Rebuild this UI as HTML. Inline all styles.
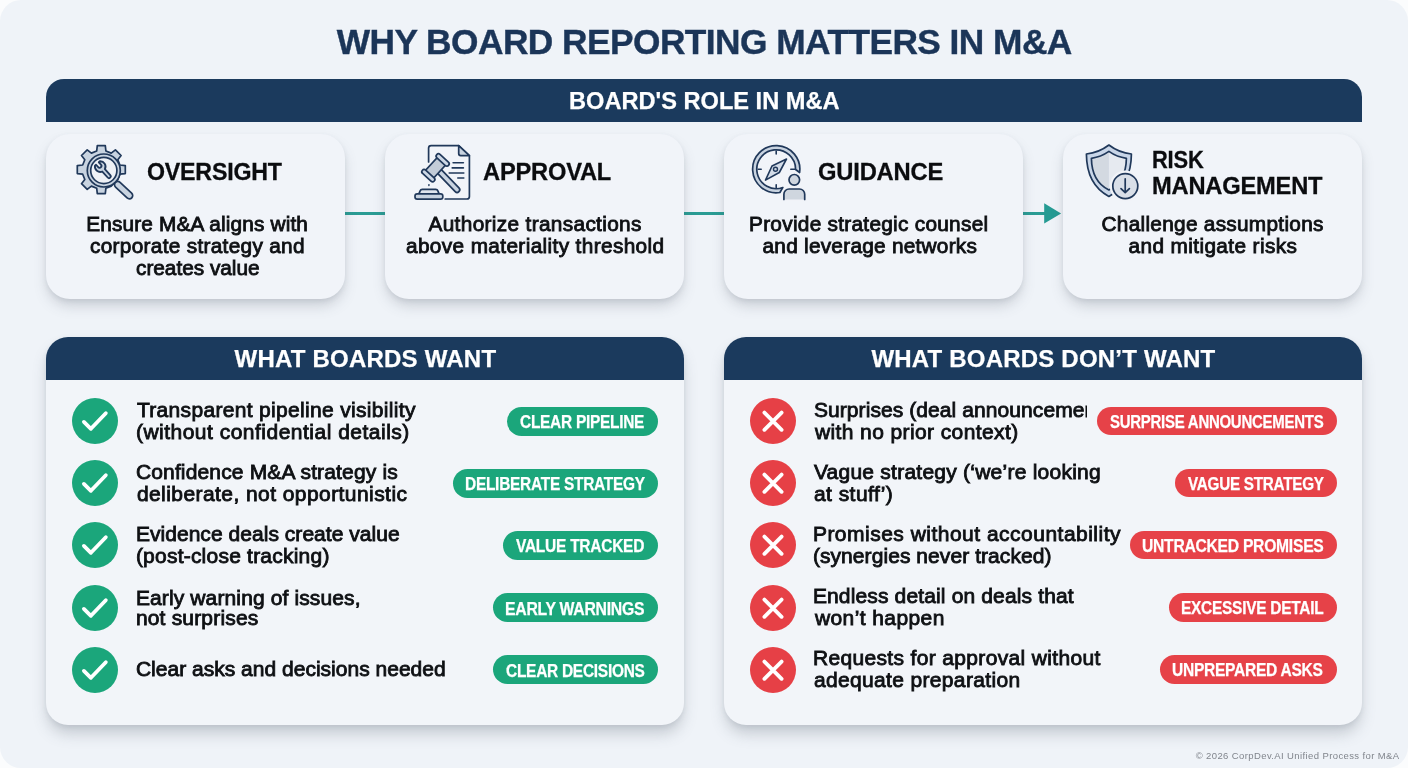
<!DOCTYPE html>
<html lang="en">
<head>
<meta charset="utf-8">
<title>Why Board Reporting Matters in M&amp;A</title>
<style>
*{box-sizing:border-box;margin:0;padding:0}
html,body{width:1408px;height:768px;overflow:hidden;background:#fbfcfd}
body{font-family:"Liberation Sans",sans-serif;color:#0d0f12;position:relative}
.page{position:absolute;left:0;top:0;width:1408px;height:768px;background:#eff3f8;border-radius:21px}
.abs{position:absolute}
.bar{position:absolute;left:46px;top:79px;width:1316px;height:43px;background:#1b3a5d;border-radius:18px 18px 0 0}
.card{position:absolute;top:134px;width:299px;height:165px;background:#f1f4f9;border-radius:24px;box-shadow:0 8px 14px -2px rgba(80,88,105,.25),0 2px 5px rgba(80,88,105,.09)}
.conn{position:absolute;top:211.7px;height:3.6px;background:#2a9c94}
.panel{position:absolute;top:337px;width:638px;height:388px;background:#f2f5f9;border-radius:22px;box-shadow:0 10px 15px -2px rgba(80,88,105,.28),0 2px 5px rgba(80,88,105,.09);overflow:hidden}
.panel .hd{position:absolute;left:0;top:0;width:638px;height:43px;background:#1b3a5d}
.ic{position:absolute;width:46px;height:46px;border-radius:50%}
.ic.g{background:#1ba67b}
.ic.r{background:#e64046}
.ic svg{position:absolute;left:0;top:0}
.tag{position:absolute;height:29px;border-radius:14.5px}
.tag.g{background:#1ba67b}
.tag.r{background:#e64248}
.t{position:absolute;white-space:nowrap;line-height:26px}
.c-title{font-weight:700;color:#1b3558;-webkit-text-stroke:0.4px #1b3558}
.c-white{font-weight:700;color:#fff;-webkit-text-stroke:0.25px #fff}
.c-head{font-weight:700;color:#0b0c0f;-webkit-text-stroke:0.3px #0b0c0f}
.c-body{color:#0e1013;-webkit-text-stroke:0.85px #0e1013}
.c-foot{color:#80858c}
</style>
</head>
<body>
<div class="page">
<div class="bar"></div>

<div class="conn" style="left:345px;width:40px"></div>
<div class="conn" style="left:684px;width:40px"></div>
<div class="conn" style="left:1023px;width:22px"></div>
<svg class="abs" style="left:1040px;top:200px" width="24" height="27" viewBox="0 0 24 27"><path d="M4.2 3.2 L21.1 13.4 L4.2 23.4 Z" fill="#259b93"/></svg>

<div class="card" style="left:46px"></div>
<div class="card" style="left:385px"></div>
<div class="card" style="left:724px"></div>
<div class="card" style="left:1063px"></div>

<div class="panel" style="left:46px"><div class="hd"></div></div>
<div class="panel" style="left:724px"><div class="hd"></div></div>

<div class="ic g" style="left:71.8px;top:398.0px"><svg width="46" height="46" viewBox="0 0 46 46"><path d="M11.9 23.9 L18.9 30.8 L33.8 15.2" fill="none" stroke="#fff" stroke-width="3.8" stroke-linecap="round" stroke-linejoin="round"/></svg></div>
<div class="ic r" style="left:750px;top:398.0px"><svg width="46" height="46" viewBox="0 0 46 46"><path d="M14.4 14.6 L31.6 31.8 M31.6 14.6 L14.4 31.8" fill="none" stroke="#fff" stroke-width="3.8" stroke-linecap="round"/></svg></div>
<div class="ic g" style="left:71.8px;top:460.1px"><svg width="46" height="46" viewBox="0 0 46 46"><path d="M11.9 23.9 L18.9 30.8 L33.8 15.2" fill="none" stroke="#fff" stroke-width="3.8" stroke-linecap="round" stroke-linejoin="round"/></svg></div>
<div class="ic r" style="left:750px;top:460.1px"><svg width="46" height="46" viewBox="0 0 46 46"><path d="M14.4 14.6 L31.6 31.8 M31.6 14.6 L14.4 31.8" fill="none" stroke="#fff" stroke-width="3.8" stroke-linecap="round"/></svg></div>
<div class="ic g" style="left:71.8px;top:522.3px"><svg width="46" height="46" viewBox="0 0 46 46"><path d="M11.9 23.9 L18.9 30.8 L33.8 15.2" fill="none" stroke="#fff" stroke-width="3.8" stroke-linecap="round" stroke-linejoin="round"/></svg></div>
<div class="ic r" style="left:750px;top:522.3px"><svg width="46" height="46" viewBox="0 0 46 46"><path d="M14.4 14.6 L31.6 31.8 M31.6 14.6 L14.4 31.8" fill="none" stroke="#fff" stroke-width="3.8" stroke-linecap="round"/></svg></div>
<div class="ic g" style="left:71.8px;top:584.5px"><svg width="46" height="46" viewBox="0 0 46 46"><path d="M11.9 23.9 L18.9 30.8 L33.8 15.2" fill="none" stroke="#fff" stroke-width="3.8" stroke-linecap="round" stroke-linejoin="round"/></svg></div>
<div class="ic r" style="left:750px;top:584.5px"><svg width="46" height="46" viewBox="0 0 46 46"><path d="M14.4 14.6 L31.6 31.8 M31.6 14.6 L14.4 31.8" fill="none" stroke="#fff" stroke-width="3.8" stroke-linecap="round"/></svg></div>
<div class="ic g" style="left:71.8px;top:646.6px"><svg width="46" height="46" viewBox="0 0 46 46"><path d="M11.9 23.9 L18.9 30.8 L33.8 15.2" fill="none" stroke="#fff" stroke-width="3.8" stroke-linecap="round" stroke-linejoin="round"/></svg></div>
<div class="ic r" style="left:750px;top:646.6px"><svg width="46" height="46" viewBox="0 0 46 46"><path d="M14.4 14.6 L31.6 31.8 M31.6 14.6 L14.4 31.8" fill="none" stroke="#fff" stroke-width="3.8" stroke-linecap="round"/></svg></div>
<div class="tag g" style="left:507.4px;top:406.8px;width:150.6px"></div>
<div class="tag g" style="left:452.6px;top:468.9px;width:205.4px"></div>
<div class="tag g" style="left:503.4px;top:531.0px;width:154.6px"></div>
<div class="tag g" style="left:492.9px;top:593.1px;width:165.1px"></div>
<div class="tag g" style="left:492.9px;top:655.2px;width:165.1px"></div>
<div class="tag r" style="left:1096.5px;top:406.9px;width:240.5px;height:28.4px"></div>
<div class="tag r" style="left:1174.7px;top:469.0px;width:162.3px;height:28.4px"></div>
<div class="tag r" style="left:1129.8px;top:531.1px;width:207.2px;height:28.4px"></div>
<div class="tag r" style="left:1168.9px;top:593.2px;width:168.1px;height:28.4px"></div>
<div class="tag r" style="left:1160.1px;top:655.3px;width:176.9px;height:28.4px"></div>
<div id="ttl" class="t c-title" style="left:336.80px;top:28.67px;font-size:35.30px;letter-spacing:-0.548px">WHY BOARD REPORTING MATTERS IN M&amp;A</div>
<div id="bar" class="t c-white" style="left:569.00px;top:87.62px;font-size:23.60px;letter-spacing:0.009px">BOARD'S ROLE IN M&amp;A</div>
<div id="h1" class="t c-head" style="left:146.85px;top:159.45px;font-size:24.40px;letter-spacing:-0.20px;transform:scaleX(0.9500);transform-origin:0 50%">OVERSIGHT</div>
<div id="h2" class="t c-head" style="left:483.00px;top:159.45px;font-size:24.40px;letter-spacing:-0.20px;transform:scaleX(0.9697);transform-origin:0 50%">APPROVAL</div>
<div id="h3" class="t c-head" style="left:817.73px;top:159.45px;font-size:24.40px;letter-spacing:-0.20px;transform:scaleX(0.9740);transform-origin:0 50%">GUIDANCE</div>
<div id="h4a" class="t c-head" style="left:1151.89px;top:147.48px;font-size:24.00px;letter-spacing:-0.20px;transform:scaleX(0.9112);transform-origin:0 50%">RISK</div>
<div id="h4b" class="t c-head" style="left:1151.81px;top:172.58px;font-size:24.00px;letter-spacing:-0.20px;transform:scaleX(0.9867);transform-origin:0 50%">MANAGEMENT</div>
<div id="p1a" class="t c-body" style="left:86.20px;top:211.39px;font-size:20.80px;letter-spacing:0.155px">Ensure M&amp;A aligns with</div>
<div id="p1b" class="t c-body" style="left:90.00px;top:233.39px;font-size:20.80px;letter-spacing:0.308px">corporate strategy and</div>
<div id="p1c" class="t c-body" style="left:136.00px;top:255.19px;font-size:20.80px;letter-spacing:-0.011px">creates value</div>
<div id="p2a" class="t c-body" style="left:428.50px;top:211.39px;font-size:20.80px;letter-spacing:0.340px">Authorize transactions</div>
<div id="p2b" class="t c-body" style="left:406.00px;top:233.39px;font-size:20.80px;letter-spacing:0.367px">above materiality threshold</div>
<div id="p3a" class="t c-body" style="left:749.00px;top:211.39px;font-size:20.80px;letter-spacing:0.282px">Provide strategic counsel</div>
<div id="p3b" class="t c-body" style="left:762.50px;top:233.39px;font-size:20.80px;letter-spacing:0.258px">and leverage networks</div>
<div id="p4a" class="t c-body" style="left:1101.50px;top:211.39px;font-size:20.80px;letter-spacing:0.286px">Challenge assumptions</div>
<div id="p4b" class="t c-body" style="left:1128.50px;top:233.39px;font-size:20.80px;letter-spacing:0.387px">and mitigate risks</div>
<div id="ph1" class="t c-white" style="left:234.50px;top:346.28px;font-size:24.00px;letter-spacing:0.225px">WHAT BOARDS WANT</div>
<div id="ph2" class="t c-white" style="left:871.40px;top:346.28px;font-size:24.00px;letter-spacing:0.202px">WHAT BOARDS DON’T WANT</div>
<div id="l0a" class="t c-body" style="left:136.90px;top:397.12px;font-size:21.00px;letter-spacing:0.322px">Transparent pipeline visibility</div>
<div id="l0b" class="t c-body" style="left:135.90px;top:419.32px;font-size:21.00px;letter-spacing:0.492px">(without confidential details)</div>
<div id="l1a" class="t c-body" style="left:135.90px;top:459.12px;font-size:21.00px;letter-spacing:0.155px">Confidence M&amp;A strategy is</div>
<div id="l1b" class="t c-body" style="left:136.90px;top:481.32px;font-size:21.00px;letter-spacing:0.432px">deliberate, not opportunistic</div>
<div id="l2a" class="t c-body" style="left:135.90px;top:521.12px;font-size:21.00px;letter-spacing:0.043px">Evidence deals create value</div>
<div id="l2b" class="t c-body" style="left:135.90px;top:543.32px;font-size:21.00px;letter-spacing:0.222px">(post-close tracking)</div>
<div id="l3a" class="t c-body" style="left:135.90px;top:584.52px;font-size:21.00px;letter-spacing:0.125px">Early warning of issues,</div>
<div id="l3b" class="t c-body" style="left:135.90px;top:605.32px;font-size:21.00px;letter-spacing:0.182px">not surprises</div>
<div id="l4a" class="t c-body" style="left:135.90px;top:656.32px;font-size:21.00px;letter-spacing:0.014px">Clear asks and decisions needed</div>
<div id="r0a" class="t c-body" style="left:813.90px;top:397.12px;font-size:21.00px;letter-spacing:0.082px;width:273.1px;overflow:hidden">Surprises (deal announcements</div>
<div id="r0b" class="t c-body" style="left:814.90px;top:419.32px;font-size:21.00px;letter-spacing:0.399px">with no prior context)</div>
<div id="r1a" class="t c-body" style="left:813.90px;top:459.12px;font-size:21.00px;letter-spacing:0.242px">Vague strategy (‘we’re looking</div>
<div id="r1b" class="t c-body" style="left:813.90px;top:481.32px;font-size:21.00px;letter-spacing:0.467px">at stuff’)</div>
<div id="r2a" class="t c-body" style="left:812.90px;top:521.12px;font-size:21.00px;letter-spacing:0.488px">Promises without accountability</div>
<div id="r2b" class="t c-body" style="left:812.90px;top:543.32px;font-size:21.00px;letter-spacing:0.069px">(synergies never tracked)</div>
<div id="r3a" class="t c-body" style="left:812.90px;top:583.12px;font-size:21.00px;letter-spacing:0.144px">Endless detail on deals that</div>
<div id="r3b" class="t c-body" style="left:814.90px;top:605.32px;font-size:21.00px;letter-spacing:0.413px">won’t happen</div>
<div id="r4a" class="t c-body" style="left:812.90px;top:645.12px;font-size:21.00px;letter-spacing:0.347px">Requests for approval without</div>
<div id="r4b" class="t c-body" style="left:813.90px;top:667.32px;font-size:21.00px;letter-spacing:0.348px">adequate preparation</div>
<div id="tg0" class="t c-white" style="left:520.40px;top:409.26px;font-size:18.00px;letter-spacing:-0.30px;transform:scaleX(0.8573);transform-origin:0 50%">CLEAR PIPELINE</div>
<div id="tg1" class="t c-white" style="left:464.74px;top:471.36px;font-size:18.00px;letter-spacing:-0.30px;transform:scaleX(0.8577);transform-origin:0 50%">DELIBERATE STRATEGY</div>
<div id="tg2" class="t c-white" style="left:516.40px;top:533.46px;font-size:18.00px;letter-spacing:-0.30px;transform:scaleX(0.8614);transform-origin:0 50%">VALUE TRACKED</div>
<div id="tg3" class="t c-white" style="left:505.02px;top:595.56px;font-size:18.00px;letter-spacing:-0.30px;transform:scaleX(0.8766);transform-origin:0 50%">EARLY WARNINGS</div>
<div id="tg4" class="t c-white" style="left:505.90px;top:657.66px;font-size:18.00px;letter-spacing:-0.30px;transform:scaleX(0.8584);transform-origin:0 50%">CLEAR DECISIONS</div>
<div id="tr0" class="t c-white" style="left:1109.50px;top:408.73px;font-size:17.80px;letter-spacing:-0.30px;transform:scaleX(0.8415);transform-origin:0 50%">SURPRISE ANNOUNCEMENTS</div>
<div id="tr1" class="t c-white" style="left:1187.70px;top:470.83px;font-size:17.80px;letter-spacing:-0.30px;transform:scaleX(0.8582);transform-origin:0 50%">VAGUE STRATEGY</div>
<div id="tr2" class="t c-white" style="left:1141.92px;top:532.93px;font-size:17.80px;letter-spacing:-0.30px;transform:scaleX(0.8810);transform-origin:0 50%">UNTRACKED PROMISES</div>
<div id="tr3" class="t c-white" style="left:1181.03px;top:595.03px;font-size:17.80px;letter-spacing:-0.30px;transform:scaleX(0.8691);transform-origin:0 50%">EXCESSIVE DETAIL</div>
<div id="tr4" class="t c-white" style="left:1172.23px;top:657.13px;font-size:17.80px;letter-spacing:-0.30px;transform:scaleX(0.8739);transform-origin:0 50%">UNPREPARED ASKS</div>
<div id="ft" class="t c-foot" style="left:1195.70px;top:742.71px;font-size:9.50px;letter-spacing:0.388px">© 2026 CorpDev.AI Unified Process for M&amp;A</div>

<svg class="abs" style="left:0;top:0;pointer-events:none" width="1408" height="768" viewBox="0 0 1408 768" fill="none" stroke="#20385a" stroke-width="1.7" stroke-linecap="round" stroke-linejoin="round">
<!-- icon 1: gear + magnifier + wrench -->
<g>
<path d="M96.7 151.0 L97.3 145.6 L105.3 145.6 L105.9 151.0 L111.2 153.1 L115.4 149.8 L121.1 155.5 L117.8 159.7 L119.9 165.0 L125.3 165.6 L125.3 173.6 L119.9 174.2 L117.8 179.5 L111.2 186.1 L105.9 188.2 L105.3 193.6 L97.3 193.6 L96.7 188.2 L91.4 186.1 L87.2 189.4 L81.5 183.7 L84.8 179.5 L82.7 174.2 L77.3 173.6 L77.3 165.6 L82.7 165.0 L84.8 159.7 L81.5 155.5 L87.2 149.8 L91.4 153.1 Z" fill="#c8d3e0"/>
<rect x="0" y="-3.3" width="22.5" height="6.6" rx="3.3" transform="translate(115.4 182.4) rotate(43.3)" fill="#c8d3e0"/>
<circle cx="103.8" cy="170.5" r="16.5" fill="#c8d3e0"/>
<circle cx="103.8" cy="170.5" r="13.1" fill="#eef1f6"/>
<path transform="translate(100.2 166.6) rotate(48) scale(1.15)" d="M-3.6 -2.9 A4.65 4.65 0 0 1 4.4 -1.5 L11.4 -1.5 A1.5 1.5 0 0 1 11.4 1.5 L4.4 1.5 A4.65 4.65 0 0 1 -3.6 2.9 L-3.6 1.6 L-0.8 1.6 A1.6 1.6 0 0 0 -0.8 -1.6 L-3.6 -1.6 Z" fill="#c8d3e0" stroke-width="1.6"/>
</g>
<!-- icon 2: document + gavel -->
<g>
<path d="M428.6 162 V148.1 a2.5 2.5 0 0 1 2.5 -2.5 H458.7 L469.4 155.6 V196.5 a2.5 2.5 0 0 1 -2.5 2.5 H445.2" />
<path d="M458.7 145.6 V153.6 a2 2 0 0 0 2 2 H469.4 Z" fill="#c8d3e0"/>
<path d="M453.1 162.7 H463.4 M452.2 167.9 H463.4 M449.2 173 H463.8 M457.8 178 H463.8" stroke-width="1.6"/>
<rect x="0" y="-2.6" width="29.5" height="5.2" rx="2.6" transform="translate(438.4 170.4) rotate(46)" fill="#c8d3e0"/>
<g transform="translate(435.5 167.8) rotate(-47.5)">
<rect x="-9" y="-5.6" width="18" height="11.2" fill="#c3ccd8"/>
<rect x="-12.9" y="-8" width="4.6" height="16" rx="2.3" fill="#cdd8e6"/>
<rect x="8.3" y="-8" width="4.6" height="16" rx="2.3" fill="#cdd8e6"/>
</g>
<path d="M418.9 193.8 L420.1 190.9 a2.4 2.4 0 0 1 2.2 -1.6 H435.7 a2.4 2.4 0 0 1 2.2 1.6 L439.1 193.8" fill="#dfe5ee"/>
<rect x="415" y="193.8" width="27.8" height="5.3" rx="2.2" fill="#c8d3e0"/>
<path d="M428.9 184.6 V185.6" stroke-width="1.4"/>
</g>
<!-- icon 3: compass + person -->
<g>
<path d="M799.6 172.5 A23.6 23.6 0 1 0 779.9 192.5 L782.8 187.5 A19.4 19.4 0 1 1 795.6 169.5 Z" fill="#c8d3e0"/>
<path d="M776.2 151.3 V154 M776.2 184.7 V187.8 M758.2 169.3 H761.2 M790.8 169.3 H795.4" stroke-width="1.6"/>
<path d="M786.5 159 L779.3 172.5 L765.5 180.1 L772 166 Z" fill="#d3dce8" stroke-width="1.6"/>
<circle cx="775.5" cy="169.2" r="2" stroke-width="1.4" fill="#c8d3e0"/>
<circle cx="794.3" cy="179.8" r="7.6" fill="#f1f3f8" stroke="none"/>
<path d="M781.6 201 V194 a7.4 7.4 0 0 1 7.4 -7.4 h10.4 a7.4 7.4 0 0 1 7.4 7.4 V201 Z" fill="#f1f3f8" stroke="none"/>
<circle cx="794.3" cy="179.8" r="5.3" fill="#cfd6df"/>
<path d="M783.9 199.4 V194.2 a5.2 5.2 0 0 1 5.2 -5.2 h10.4 a5.2 5.2 0 0 1 5.2 5.2 V199.4" fill="#cfd6df"/>
</g>
<!-- icon 4: shield + arrow circle -->
<g>
<path d="M1108.9 145 Q1099 152.6 1086.4 154 C1086.5 172 1093 188 1108.9 196.4 C1124.8 188 1131.3 172 1131.4 154 Q1118.8 152.6 1108.9 145 Z" fill="#c9d6e8"/>
<path d="M1108.9 151.4 Q1101 157 1091.4 158.3 C1091.6 172 1096.5 184 1108.9 190 Z" fill="#d3d9e1" stroke="none"/>
<path d="M1108.9 151.4 Q1116.8 157 1126.4 158.3 C1126.2 172 1121.3 184 1108.9 190 Z" fill="#e6eaf0" stroke="none"/>
<path d="M1108.9 151.4 Q1101 157 1091.4 158.3 C1091.6 172 1096.5 184 1108.9 190 C1121.3 184 1126.2 172 1126.4 158.3 Q1116.8 157 1108.9 151.4 Z"/>
<circle cx="1125.3" cy="186.1" r="15.6" fill="#f1f3f8" stroke="none"/>
<circle cx="1125.3" cy="186.1" r="12.5" fill="#d9dfe8"/>
<path d="M1125.2 178.8 V192.4 M1121 188.6 L1125.2 192.6 L1129.4 188.6"/>
</g>
</svg>

</div>
</body>
</html>
